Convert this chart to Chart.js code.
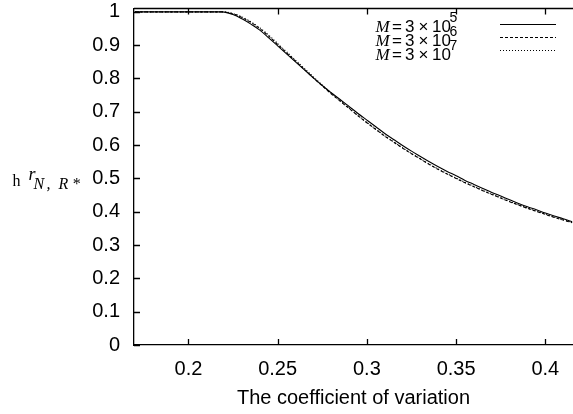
<!DOCTYPE html>
<html>
<head>
<meta charset="utf-8">
<script src="https://cdn.jsdelivr.net/npm/chart.js"></script>
<style>
  html, body { margin: 0; padding: 0; background: #fff; }
  #wrap { width: 573px; height: 414px; }
</style>
</head>
<body>
<div id="wrap"><canvas id="cvChart" width="573" height="414"></canvas></div>

<script>
    // coefficient of variation (x) and the three curves
    const cvValues = [0.170, 0.200, 0.219, 0.225, 0.230, 0.235, 0.240, 0.245, 0.250, 0.255,
        0.260, 0.265, 0.270, 0.275, 0.280, 0.285, 0.290, 0.295, 0.300, 0.305,
        0.310, 0.315, 0.320, 0.325, 0.330, 0.335, 0.340, 0.345, 0.350, 0.355,
        0.360, 0.365, 0.370, 0.375, 0.380, 0.385, 0.390, 0.395, 0.400, 0.405,
        0.410, 0.415];
    const m5Values = [1, 1, 1, 0.992, 0.979, 0.963, 0.945, 0.922, 0.898, 0.874,
        0.850, 0.826, 0.802, 0.779, 0.757, 0.737, 0.716, 0.695, 0.675, 0.655,
        0.635, 0.617, 0.599, 0.582, 0.566, 0.550, 0.535, 0.521, 0.508, 0.494,
        0.482, 0.470, 0.458, 0.447, 0.436, 0.425, 0.415, 0.406, 0.396, 0.387,
        0.379, 0.370];
    const m6Values = [1, 1, 1, 0.994, 0.983, 0.968, 0.950, 0.927, 0.902, 0.877,
        0.852, 0.827, 0.802, 0.778, 0.754, 0.732, 0.710, 0.688, 0.667, 0.647,
        0.627, 0.609, 0.591, 0.574, 0.558, 0.542, 0.527, 0.513, 0.500, 0.487,
        0.475, 0.463, 0.452, 0.441, 0.430, 0.420, 0.410, 0.401, 0.392, 0.383,
        0.375, 0.367];
    const m7Values = [1, 1, 1, 0.995, 0.985, 0.970, 0.952, 0.930, 0.905, 0.880,
        0.855, 0.830, 0.805, 0.780, 0.756, 0.733, 0.711, 0.689, 0.668, 0.648,
        0.628, 0.610, 0.592, 0.575, 0.559, 0.543, 0.528, 0.514, 0.501, 0.488,
        0.476, 0.464, 0.453, 0.442, 0.431, 0.421, 0.411, 0.402, 0.393, 0.384,
        0.376, 0.368];
    const legendExponents = ['5', '6', '7'];
    const xTickValues = [0.2, 0.25, 0.3, 0.35, 0.4];
    const yTickValues = [0, 0.1, 0.2, 0.3, 0.4, 0.5, 0.6, 0.7, 0.8, 0.9, 1];

    const toPoints = ys => cvValues.map((x, i) => ({ x: x, y: ys[i] }));
    const dashes = [[], [3, 2], [1, 2]];

    // gnuplot-like frame: inward ticks, top border, legend and y label
    const framePlugin = {
        id: 'frame',
        afterDraw(chart) {
            const ctx = chart.ctx;
            const a = chart.chartArea;
            const xs = chart.scales.x, ys = chart.scales.y;
            ctx.save();
            ctx.strokeStyle = '#000';
            ctx.lineWidth = 1.3;
            ctx.beginPath();
            ctx.moveTo(a.left, a.top); ctx.lineTo(a.right, a.top);
            xTickValues.forEach(v => {
                const px = Math.round(xs.getPixelForValue(v)) + 0.5;
                ctx.moveTo(px, a.bottom); ctx.lineTo(px, a.bottom - 6);
                ctx.moveTo(px, a.top); ctx.lineTo(px, a.top + 6);
            });
            yTickValues.forEach(v => {
                const py = Math.round(ys.getPixelForValue(v)) + 0.5;
                ctx.moveTo(a.left, py); ctx.lineTo(a.left + 6, py);
            });
            ctx.stroke();

            // legend
            const rows = [31.5, 45.5, 59.5];
            const lineY = [24.5, 37.5, 50.5];
            ctx.fillStyle = '#000';
            ctx.textBaseline = 'alphabetic';
            ctx.textAlign = 'left';
            rows.forEach((by, i) => {
                ctx.font = 'italic 17px "Liberation Serif"';
                ctx.fillText('M', 375.5, by);
                ctx.font = '17px "Liberation Sans"';
                ctx.fillText('=', 392, by);
                ctx.fillText('3', 405, by);
                ctx.fillText('\u00d7', 418.5, by);
                ctx.fillText('10', 432, by);
                ctx.font = '14px "Liberation Sans"';
                ctx.fillText(legendExponents[i], 449.5, by - 9.5);
                ctx.lineWidth = 1;
                ctx.setLineDash(dashes[i]);
                ctx.beginPath();
                ctx.moveTo(500, lineY[i]); ctx.lineTo(556, lineY[i]);
                ctx.stroke();
            });
            ctx.setLineDash([]);

            // y axis label
            ctx.font = '16px "Liberation Serif"';
            ctx.fillText('h', 12.5, 186);
            ctx.font = 'italic 18px "Liberation Serif"';
            ctx.fillText('r', 28.5, 180);
            ctx.font = 'italic 16px "Liberation Serif"';
            ctx.fillText('N', 33.5, 188.5);
            ctx.fillText(',', 46.5, 188.5);
            ctx.fillText('R', 58.5, 188.5);
            ctx.fillText('*', 72, 188.5);
            ctx.restore();
        }
    };

    new Chart(document.getElementById('cvChart').getContext('2d'), {
        type: 'line',
        data: {
            datasets: [m5Values, m6Values, m7Values].map((vals, i) => ({
                label: 'M = 3 \u00d7 10^' + legendExponents[i],
                data: toPoints(vals),
                borderColor: '#000',
                borderWidth: 1.1,
                borderDash: dashes[i],
                pointRadius: 0,
                fill: false,
                tension: 0,
                cubicInterpolationMode: 'monotone'
            }))
        },
        options: {
            responsive: false,
            animation: false,
            devicePixelRatio: 1,
            layout: { padding: { top: 8.5, right: 0, left: 0, bottom: 0 } },
            plugins: {
                legend: { display: false },
                tooltip: { enabled: false }
            },
            scales: {
                x: {
                    type: 'linear',
                    min: 0.1695,
                    max: 0.4155,
                    afterBuildTicks: s => { s.ticks = xTickValues.map(v => ({ value: v })); },
                    afterFit: s => { s.height = 69; s.paddingLeft = 0; s.paddingRight = 0; },
                    grid: { display: false, drawTicks: false },
                    border: { display: true, color: '#000', width: 1.3 },
                    ticks: {
                        padding: 12,
                        color: '#000',
                        font: { family: 'Liberation Sans', size: 20 },
                        callback: v => String(v)
                    },
                    title: {
                        display: true,
                        text: 'The coefficient of variation',
                        color: '#000',
                        font: { family: 'Liberation Sans', size: 20 },
                        padding: { top: 0, bottom: 4 }
                    }
                },
                y: {
                    type: 'linear',
                    min: 0,
                    max: 1.01,
                    afterBuildTicks: s => { s.ticks = yTickValues.map(v => ({ value: v })); },
                    afterFit: s => { s.width = 134; s.paddingTop = 0; s.paddingBottom = 0; },
                    grid: { display: false, drawTicks: false },
                    border: { display: true, color: '#000', width: 1.3 },
                    ticks: {
                        padding: 14,
                        color: '#000',
                        font: { family: 'Liberation Sans', size: 20 },
                        callback: v => String(v)
                    }
                }
            }
        },
        plugins: [framePlugin]
    });
</script>
</body>
</html>
